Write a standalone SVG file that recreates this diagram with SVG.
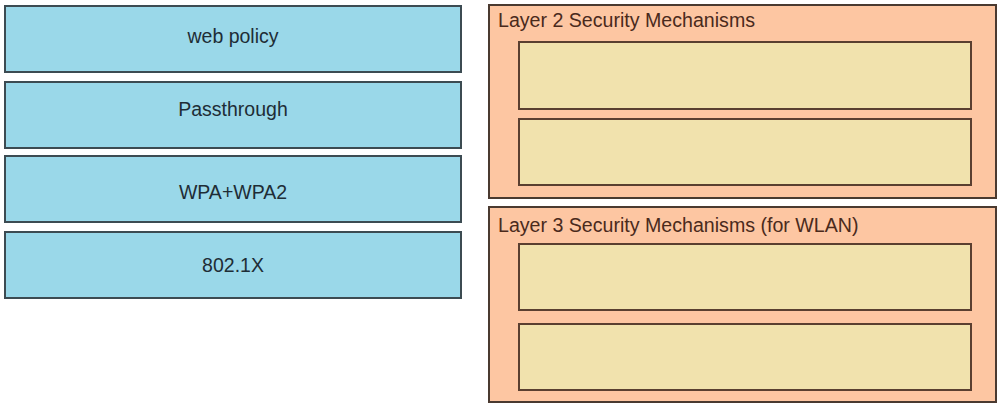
<svg xmlns="http://www.w3.org/2000/svg" width="1007" height="411" viewBox="0 0 1007 411">
<style>
.opt{fill:#9ad8e9;stroke:#3c4b52;stroke-width:2}
.optt{font-family:"Liberation Sans",Arial,sans-serif;font-size:19.5px;fill:#1e2d36;text-anchor:middle}
.grp{fill:#fdc6a2;stroke:#4a3a30;stroke-width:2}
.slot{fill:#f1e2ad;stroke:#5a3f30;stroke-width:2}
.grpt{font-family:"Liberation Sans",Arial,sans-serif;font-size:19.6px;fill:#4a2a1c}
</style>
<rect width="1007" height="411" fill="#ffffff"/>
<g id="opt-web-policy"><rect class="opt" x="5" y="6" width="456" height="66"/><text class="optt" x="233" y="43">web policy</text></g>
<g id="opt-passthrough"><rect class="opt" x="5" y="82" width="456" height="66"/><text class="optt" x="233" y="116">Passthrough</text></g>
<g id="opt-wpa"><rect class="opt" x="5" y="156" width="456" height="66"/><text class="optt" x="233" y="199">WPA+WPA2</text></g>
<g id="opt-8021x"><rect class="opt" x="5" y="232" width="456" height="66"/><text class="optt" x="233" y="272">802.1X</text></g>
<g id="layer2"><rect class="grp" x="489" y="5" width="507" height="193"/><text class="grpt" x="498" y="27">Layer 2 Security Mechanisms</text>
<rect class="slot" x="519" y="42" width="452" height="67"/><rect class="slot" x="519" y="119" width="452" height="66"/></g>
<g id="layer3"><rect class="grp" x="489" y="207" width="507" height="195"/><text class="grpt" x="498" y="232">Layer 3 Security Mechanisms (for WLAN)</text>
<rect class="slot" x="519" y="244" width="452" height="66"/><rect class="slot" x="519" y="324" width="452" height="66"/></g>
<g id="connectors"></g>
</svg>
